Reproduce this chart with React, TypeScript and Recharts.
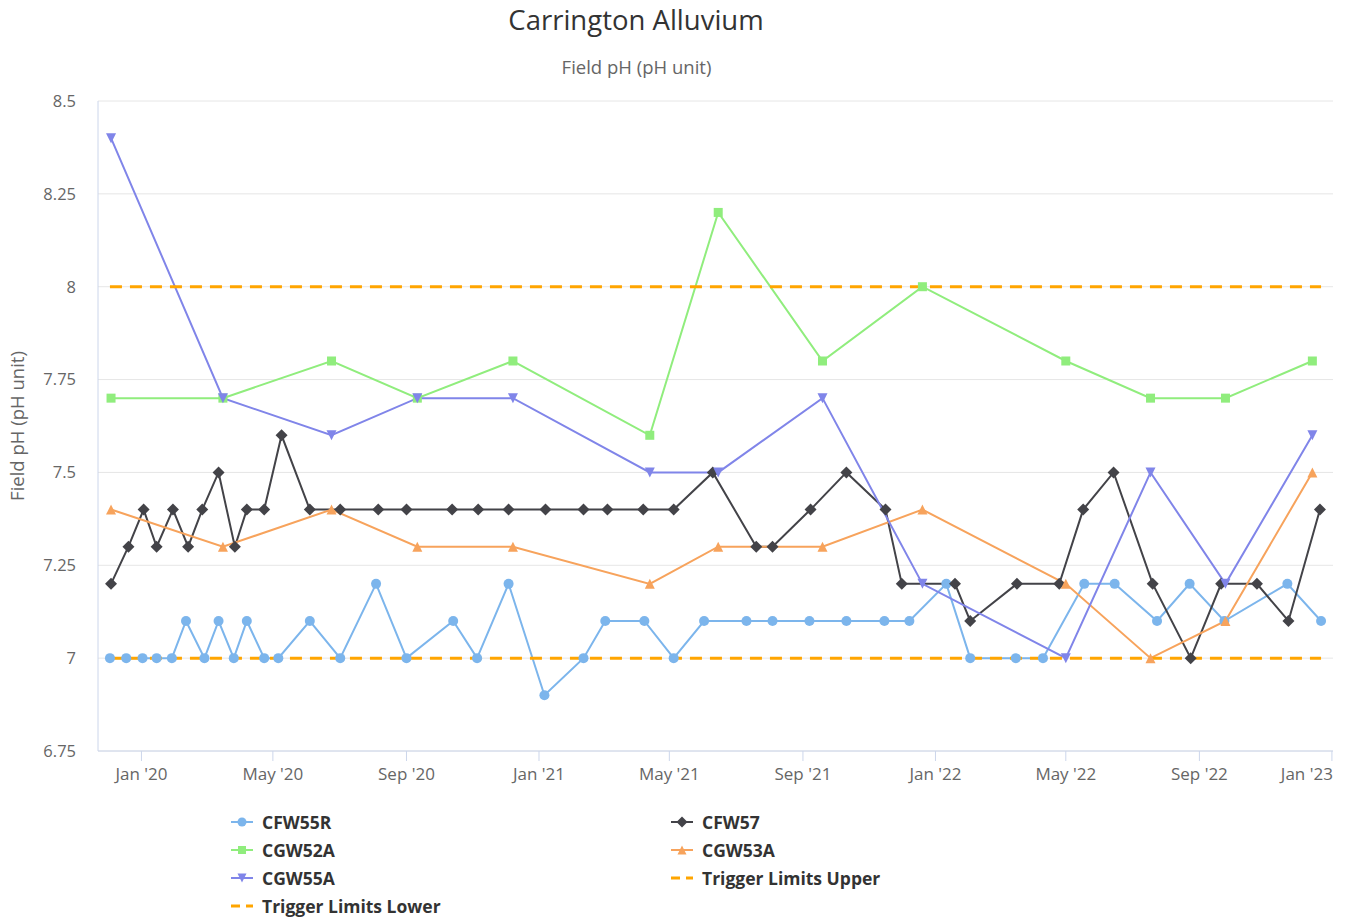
import { LineChart, Line, XAxis, YAxis, CartesianGrid } from 'recharts';

// Carrington Alluvium – field pH per bore, with trigger limits

const FONT = '"Open Sans", "Noto Sans", sans-serif';

const cfw55r: [string, number][] = [
  ['2019-12-03', 7.0], ['2019-12-18', 7.0], ['2020-01-02', 7.0], ['2020-01-15', 7.0],
  ['2020-01-29', 7.0], ['2020-02-11', 7.1], ['2020-02-28', 7.0], ['2020-03-12', 7.1],
  ['2020-03-26', 7.0], ['2020-04-07', 7.1], ['2020-04-23', 7.0], ['2020-05-06', 7.0],
  ['2020-06-04', 7.1], ['2020-07-02', 7.0], ['2020-08-04', 7.2], ['2020-09-01', 7.0],
  ['2020-10-14', 7.1], ['2020-11-05', 7.0], ['2020-12-04', 7.2], ['2021-01-06', 6.9],
  ['2021-02-11', 7.0], ['2021-03-03', 7.1], ['2021-04-08', 7.1], ['2021-05-05', 7.0],
  ['2021-06-02', 7.1], ['2021-07-11', 7.1], ['2021-08-04', 7.1], ['2021-09-07', 7.1],
  ['2021-10-11', 7.1], ['2021-11-15', 7.1], ['2021-12-08', 7.1], ['2022-01-11', 7.2],
  ['2022-02-02', 7.0], ['2022-03-16', 7.0], ['2022-04-10', 7.0], ['2022-05-18', 7.2],
  ['2022-06-15', 7.2], ['2022-07-24', 7.1], ['2022-08-23', 7.2], ['2022-09-24', 7.1],
  ['2022-11-21', 7.2], ['2022-12-22', 7.1],
];

const cfw57: [string, number][] = [
  ['2019-12-04', 7.2], ['2019-12-20', 7.3], ['2020-01-03', 7.4], ['2020-01-15', 7.3],
  ['2020-01-30', 7.4], ['2020-02-13', 7.3], ['2020-02-26', 7.4], ['2020-03-12', 7.5],
  ['2020-03-27', 7.3], ['2020-04-07', 7.4], ['2020-04-23', 7.4], ['2020-05-09', 7.6],
  ['2020-06-04', 7.4], ['2020-07-02', 7.4], ['2020-08-06', 7.4], ['2020-09-01', 7.4],
  ['2020-10-13', 7.4], ['2020-11-06', 7.4], ['2020-12-04', 7.4], ['2021-01-07', 7.4],
  ['2021-02-11', 7.4], ['2021-03-05', 7.4], ['2021-04-07', 7.4], ['2021-05-05', 7.4],
  ['2021-06-10', 7.5], ['2021-07-20', 7.3], ['2021-08-04', 7.3], ['2021-09-08', 7.4],
  ['2021-10-11', 7.5], ['2021-11-16', 7.4], ['2021-12-01', 7.2], ['2022-01-19', 7.2],
  ['2022-02-02', 7.1], ['2022-03-17', 7.2], ['2022-04-25', 7.2], ['2022-05-17', 7.4],
  ['2022-06-14', 7.5], ['2022-07-20', 7.2], ['2022-08-24', 7.0], ['2022-09-21', 7.2],
  ['2022-10-24', 7.2], ['2022-11-22', 7.1], ['2022-12-21', 7.4],
];

// the CGW bores share one sampling round
const cgwDates = [
  '2019-12-04', '2020-03-16', '2020-06-24', '2020-09-11', '2020-12-08', '2021-04-13',
  '2021-06-15', '2021-09-19', '2021-12-20', '2022-05-01', '2022-07-18', '2022-09-25',
  '2022-12-14',
];
const cgw52a = [7.7, 7.7, 7.8, 7.7, 7.8, 7.6, 8.2, 7.8, 8.0, 7.8, 7.7, 7.7, 7.8];
const cgw53a = [7.4, 7.3, 7.4, 7.3, 7.3, 7.2, 7.3, 7.3, 7.4, 7.2, 7.0, 7.1, 7.5];
const cgw55a = [8.4, 7.7, 7.6, 7.7, 7.7, 7.5, 7.5, 7.7, 7.2, 7.0, 7.5, 7.2, 7.6];

const triggerUpper = 8;
const triggerLower = 7;
const triggerSpan = ['2019-12-03', '2022-12-22'];

const yTicks = [6.75, 7, 7.25, 7.5, 7.75, 8, 8.25, 8.5];
const xTickDates = [
  '2020-01-01', '2020-05-01', '2020-09-01', '2021-01-01', '2021-05-01', '2021-09-01',
  '2022-01-01', '2022-05-01', '2022-09-01', '2023-01-01',
];
const xDomain = ['2019-11-22', '2023-01-02'];
const MONTHS = ['Jan', 'Feb', 'Mar', 'Apr', 'May', 'Jun', 'Jul', 'Aug', 'Sep', 'Oct', 'Nov', 'Dec'];

const ts = (d: string) => Date.parse(d);
const fmtDate = (t: number) => {
  const d = new Date(t);
  return `${MONTHS[d.getUTCMonth()]} '${String(d.getUTCFullYear()).slice(2)}`;
};
const pairs = (rows: [string, number][]) => rows.map(([d, v]) => ({ t: ts(d), v }));
const zipped = (vals: number[]) => cgwDates.map((d, i) => ({ t: ts(d), v: vals[i] }));
const flat = (v: number) => triggerSpan.map((d) => ({ t: ts(d), v }));

type Shape = 'circle' | 'diamond' | 'square' | 'triangle' | 'triangle-down' | 'none';

function Marker({ shape, cx, cy, color, r = 5 }: { shape: Shape; cx: number; cy: number; color: string; r?: number }) {
  if (shape === 'circle') return <circle cx={cx} cy={cy} r={r} fill={color} />;
  if (shape === 'square') return <rect x={cx - r + 0.5} y={cy - r + 0.5} width={2 * r - 1} height={2 * r - 1} fill={color} />;
  if (shape === 'diamond')
    return <path d={`M${cx} ${cy - r - 1}L${cx + r + 1} ${cy}L${cx} ${cy + r + 1}L${cx - r - 1} ${cy}Z`} fill={color} />;
  if (shape === 'triangle')
    return <path d={`M${cx} ${cy - r}L${cx + r} ${cy + r}L${cx - r} ${cy + r}Z`} fill={color} />;
  if (shape === 'triangle-down')
    return <path d={`M${cx - r} ${cy - r}L${cx + r} ${cy - r}L${cx} ${cy + r}Z`} fill={color} />;
  return null;
}

const series = [
  { name: 'CFW55R', color: '#7cb5ec', shape: 'circle' as Shape, data: pairs(cfw55r) },
  { name: 'CFW57', color: '#434348', shape: 'diamond' as Shape, data: pairs(cfw57) },
  { name: 'CGW52A', color: '#90ed7d', shape: 'square' as Shape, data: zipped(cgw52a) },
  { name: 'CGW53A', color: '#f7a35c', shape: 'triangle' as Shape, data: zipped(cgw53a) },
  { name: 'CGW55A', color: '#8085e9', shape: 'triangle-down' as Shape, data: zipped(cgw55a) },
  { name: 'Trigger Limits Upper', color: '#ffa500', shape: 'none' as Shape, data: flat(triggerUpper), dashed: true },
  { name: 'Trigger Limits Lower', color: '#ffa500', shape: 'none' as Shape, data: flat(triggerLower), dashed: true },
];

// last label sits flush with the plot's right edge, like the original
function XTick({ x, y, payload, index }: any) {
  const last = index === xTickDates.length - 1;
  return (
    <text x={x + (last ? 2 : 0)} y={y} dy="0.71em" textAnchor={last ? 'end' : 'middle'} fill="#666" fontSize={17} fontFamily={FONT}>
      {fmtDate(payload.value)}
    </text>
  );
}

function LegendItem({ s, left, top }: { s: (typeof series)[number]; left: number; top: number }) {
  return (
    <div style={{ position: 'absolute', left, top, height: 20, display: 'flex', alignItems: 'center', whiteSpace: 'nowrap' }}>
      <svg width={22} height={20} style={{ marginRight: 9 }}>
        {s.dashed ? (
          <line x1={0} y1={10} x2={22} y2={10} stroke={s.color} strokeWidth={3} strokeDasharray="9 6" />
        ) : (
          <>
            <line x1={0} y1={10} x2={22} y2={10} stroke={s.color} strokeWidth={2} />
            <Marker shape={s.shape} cx={11} cy={10} color={s.color} r={4.5} />
          </>
        )}
      </svg>
      <span style={{ fontSize: 17.5, fontWeight: 700, color: '#333' }}>{s.name}</span>
    </div>
  );
}

export default function App() {
  return (
    <div style={{ position: 'absolute', left: 0, top: 0, width: 1353, height: 918, background: '#fff', fontFamily: FONT }}>
      <div style={{ position: 'absolute', left: 0, width: 1272, top: 1, textAlign: 'center', fontSize: 27.5, color: '#333' }}>
        Carrington Alluvium
      </div>
      <div style={{ position: 'absolute', left: 0, width: 1273, top: 54, textAlign: 'center', fontSize: 18.5, color: '#666' }}>
        Field pH (pH unit)
      </div>
      <LineChart width={1353} height={800} margin={{ top: 101, right: 20, left: 0, bottom: 9 }}>
        <CartesianGrid vertical={false} stroke="#e6e6e6" />
        <XAxis
          dataKey="t"
          type="number"
          domain={[ts(xDomain[0]), ts(xDomain[1])]}
          ticks={xTickDates.map(ts)}
          tickFormatter={fmtDate}
          height={40}
          stroke="#ccd6eb"
          tickSize={10}
          tickMargin={7}
          tick={<XTick />}
          allowDataOverflow
        />
        <YAxis
          type="number"
          domain={[6.75, 8.5]}
          ticks={yTicks}
          width={98}
          stroke="#ccd6eb"
          tickLine={false}
          tickSize={6}
          tickMargin={16}
          tick={{ fill: '#666', fontSize: 16.5, fontFamily: FONT }}
          allowDataOverflow
          label={{
            value: 'Field pH (pH unit)',
            angle: -90,
            position: 'insideLeft',
            offset: 17,
            style: { textAnchor: 'middle', fill: '#666', fontSize: 18.5, fontFamily: FONT },
          }}
        />
        {series.map((s) => (
          <Line
            key={s.name}
            name={s.name}
            data={s.data}
            dataKey="v"
            stroke={s.color}
            strokeWidth={s.dashed ? 3 : 2}
            strokeDasharray={s.dashed ? '12 8' : undefined}
            isAnimationActive={false}
            dot={
              s.dashed
                ? false
                : (p: any) =>
                    p.cx == null || p.cy == null ? (
                      <g key={`${s.name}-${p.index}`} />
                    ) : (
                      <Marker key={`${s.name}-${p.index}`} shape={s.shape} cx={p.cx} cy={p.cy} color={s.color} />
                    )
            }
            activeDot={false}
          />
        ))}
      </LineChart>
      {series.map((s, i) => (
        <LegendItem key={s.name} s={s} left={i % 2 === 0 ? 231 : 671} top={812 + Math.floor(i / 2) * 28} />
      ))}
    </div>
  );
}
